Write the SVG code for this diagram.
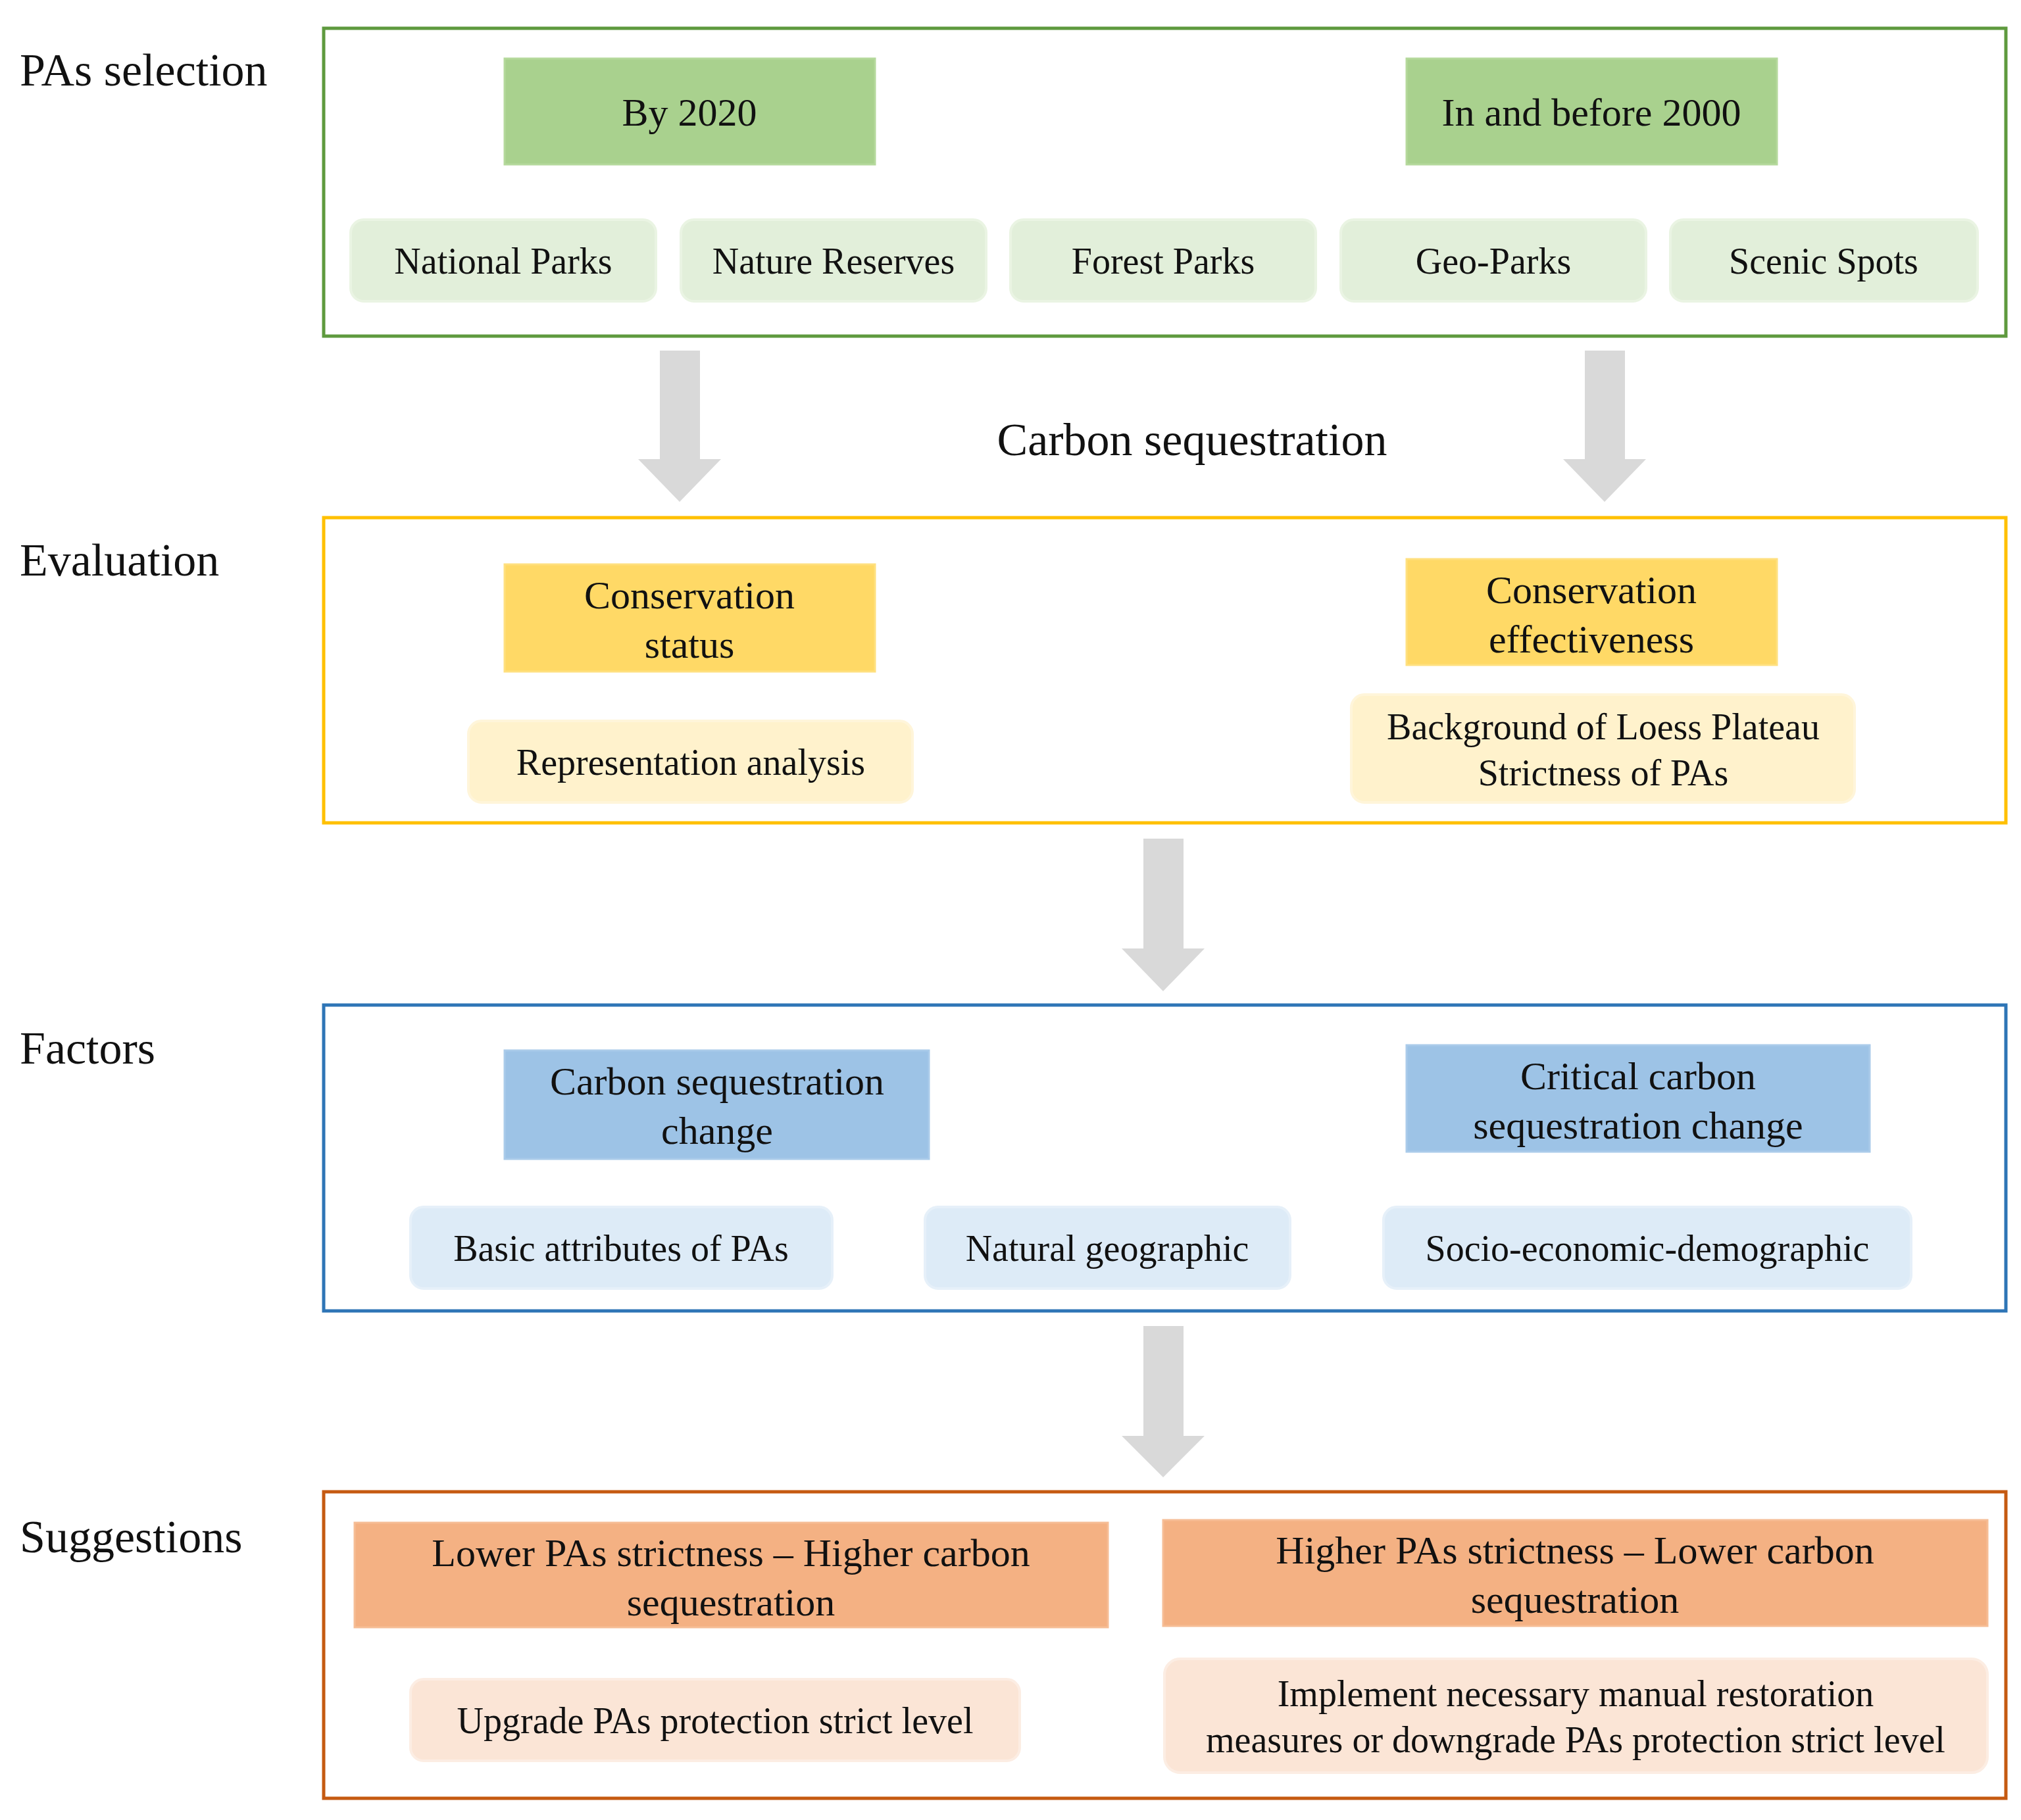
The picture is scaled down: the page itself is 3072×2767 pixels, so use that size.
<svg xmlns="http://www.w3.org/2000/svg" width="3072" height="2767" viewBox="0 0 3072 2767">
<style>
text{font-family:"Liberation Serif","Times New Roman",serif;fill:#111;text-anchor:middle}
.lab{font-size:70px;text-anchor:start}
.t{font-size:60px}
.s{font-size:56px}
.hg{fill:#A9D18E;stroke:#B5D99C;stroke-width:3}
.lg{fill:#E2EFDA;stroke:#EAF4E3;stroke-width:4}
.hy{fill:#FFD966;stroke:#FFE07F;stroke-width:3}
.ly{fill:#FFF2CC;stroke:#FFF5DA;stroke-width:4}
.hb{fill:#9DC3E6;stroke:#AACBEA;stroke-width:3}
.lb{fill:#DDEBF7;stroke:#E6F0F9;stroke-width:4}
.ho{fill:#F4B183;stroke:#F6BD95;stroke-width:3}
.lo{fill:#FBE5D6;stroke:#FCEDE3;stroke-width:4}
.arr{fill:#D9D9D9}
</style>
<rect width="3072" height="2767" fill="#fff"/>
<g id="labels">
<text class="lab" x="30" y="130">PAs selection</text>
<text class="lab" x="30" y="875">Evaluation</text>
<text class="lab" x="30" y="1617">Factors</text>
<text class="lab" x="30" y="2360">Suggestions</text>
<text class="lab" x="1812" y="692" style="text-anchor:middle">Carbon sequestration</text>
</g>
<g id="frames" fill="none" stroke-width="5">
<rect x="492" y="43" width="2557" height="468" stroke="#5E9A3E"/>
<rect x="492" y="787" width="2557" height="464" stroke="#FFC000"/>
<rect x="492" y="1528" width="2557" height="465" stroke="#2E75B6"/>
<rect x="492" y="2268" width="2557" height="466" stroke="#C55A11"/>
</g>
<g id="connectors">
<polygon class="arr" points="1003,533 1064,533 1064,698 1096,698 1033,763 970,698 1003,698"/>
<polygon class="arr" points="2409,533 2470,533 2470,698 2502,698 2439,763 2376,698 2409,698"/>
<polygon class="arr" points="1738,1275 1799,1275 1799,1442 1831,1442 1768,1507 1705,1442 1738,1442"/>
<polygon class="arr" points="1738,2016 1799,2016 1799,2183 1831,2183 1768,2246 1705,2183 1738,2183"/>
</g>
<g id="n-by2020"><rect class="hg" x="767" y="89" width="563" height="161"/><text class="t" x="1048" y="191">By 2020</text></g>
<g id="n-in2000"><rect class="hg" x="2138" y="89" width="563" height="161"/><text class="t" x="2419" y="191">In and before 2000</text></g>
<g id="n-np"><rect class="lg" x="533" y="334" width="464" height="124" rx="20"/><text class="s" x="765" y="416">National Parks</text></g>
<g id="n-nr"><rect class="lg" x="1035" y="334" width="464" height="124" rx="20"/><text class="s" x="1267" y="416">Nature Reserves</text></g>
<g id="n-fp"><rect class="lg" x="1536" y="334" width="464" height="124" rx="20"/><text class="s" x="1768" y="416">Forest Parks</text></g>
<g id="n-gp"><rect class="lg" x="2038" y="334" width="464" height="124" rx="20"/><text class="s" x="2270" y="416">Geo-Parks</text></g>
<g id="n-ss"><rect class="lg" x="2539" y="334" width="467" height="124" rx="20"/><text class="s" x="2772" y="416">Scenic Spots</text></g>
<g id="n-cs"><rect class="hy" x="767" y="858" width="563" height="163"/><text class="t" x="1048" y="925">Conservation</text><text class="t" x="1048" y="1000">status</text></g>
<g id="n-ce"><rect class="hy" x="2138" y="850" width="563" height="161"/><text class="t" x="2419" y="917">Conservation</text><text class="t" x="2419" y="992">effectiveness</text></g>
<g id="n-ra"><rect class="ly" x="712" y="1096" width="675" height="124" rx="20"/><text class="s" x="1050" y="1178">Representation analysis</text></g>
<g id="n-bg"><rect class="ly" x="2054" y="1056" width="765" height="164" rx="20"/><text class="s" x="2437" y="1124">Background of Loess Plateau</text><text class="s" x="2437" y="1194">Strictness of PAs</text></g>
<g id="n-csc"><rect class="hb" x="767" y="1597" width="645" height="165"/><text class="t" x="1090" y="1664">Carbon sequestration</text><text class="t" x="1090" y="1739">change</text></g>
<g id="n-ccs"><rect class="hb" x="2138" y="1589" width="704" height="162"/><text class="t" x="2490" y="1656">Critical carbon</text><text class="t" x="2490" y="1731">sequestration change</text></g>
<g id="n-ba"><rect class="lb" x="624" y="1835" width="641" height="124" rx="20"/><text class="s" x="944" y="1917">Basic attributes of PAs</text></g>
<g id="n-ng"><rect class="lb" x="1406" y="1835" width="555" height="124" rx="20"/><text class="s" x="1683" y="1917">Natural geographic</text></g>
<g id="n-se"><rect class="lb" x="2103" y="1835" width="802" height="124" rx="20"/><text class="s" x="2504" y="1917">Socio-economic-demographic</text></g>
<g id="n-lower"><rect class="ho" x="539" y="2315" width="1145" height="159"/><text class="t" x="1111" y="2381">Lower PAs strictness – Higher carbon</text><text class="t" x="1111" y="2456">sequestration</text></g>
<g id="n-higher"><rect class="ho" x="1768" y="2311" width="1253" height="161"/><text class="t" x="2394" y="2377">Higher PAs strictness – Lower carbon</text><text class="t" x="2394" y="2452">sequestration</text></g>
<g id="n-up"><rect class="lo" x="624" y="2553" width="926" height="124" rx="20"/><text class="s" x="1087" y="2635">Upgrade PAs protection strict level</text></g>
<g id="n-imp"><rect class="lo" x="1770" y="2522" width="1251" height="173" rx="24"/><text class="s" x="2395" y="2594">Implement necessary manual restoration</text><text class="s" x="2395" y="2664">measures or downgrade PAs protection strict level</text></g>
</svg>
